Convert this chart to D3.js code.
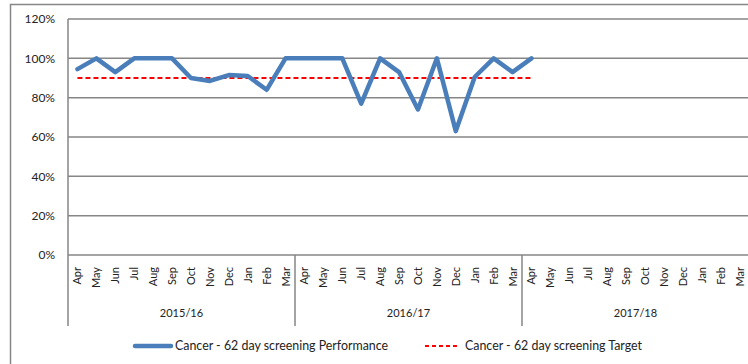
<!DOCTYPE html>
<html>
<head>
<meta charset="utf-8">
<script src="https://cdn.jsdelivr.net/npm/d3@7"></script>
<style>
  html, body { margin: 0; padding: 0; background: #fff; }
  svg { display: block; font-family: Lato, "Open Sans", "Liberation Sans", sans-serif; }
</style>
</head>
<body>
<svg id="chart" width="748" height="364"></svg>
<script>
// Financial-year months and year groups
const months = ["Apr","May","Jun","Jul","Aug","Sep","Oct","Nov","Dec","Jan","Feb","Mar"];
const years = ["2015/16", "2016/17", "2017/18"];

// Monthly performance (%), Apr 2015 onwards
const performance = [94.5, 100, 93, 100, 100, 100, 90, 88.5, 91.5, 91, 84, 100,
                     100, 100, 100, 77, 100, 93, 74, 100, 63, 90.5, 100, 93,
                     100];
// Target (%) over the same months
const target = Array(performance.length).fill(90);

const yTicks = [0, 20, 40, 60, 80, 100, 120];

const seriesNames = ["Cancer - 62 day screening Performance", "Cancer - 62 day screening Target"];

const categories = [];
years.forEach((yr, g) => months.forEach((m, i) => categories.push({ key: g * 12 + i, month: m, year: yr })));

const svg = d3.select("#chart");
const plotLeft = 68, plotRight = 749, plotTop = 19, plotBottom = 255;
const grey = "#868686";

// Outer frame
svg.append("rect")
  .attr("x", 10.5).attr("y", 4.5).attr("width", 800).attr("height", 400)
  .attr("fill", "none").attr("stroke", grey).attr("stroke-width", 1.5);

const x = d3.scaleBand().domain(categories.map(d => d.key)).range([plotLeft, plotRight]).padding(0);
const y = d3.scaleLinear().domain([0, 120]).range([plotBottom, plotTop]);
const cx = i => x(i) + x.bandwidth() / 2;

// Horizontal gridlines
svg.append("g").selectAll("line").data(yTicks).join("line")
  .attr("x1", plotLeft).attr("x2", plotRight + 5)
  .attr("y1", d => y(d)).attr("y2", d => y(d))
  .attr("stroke", grey).attr("stroke-width", 1.5);

// Y axis labels
svg.append("g").selectAll("text").data(yTicks).join("text")
  .attr("x", 55).attr("y", d => y(d)).attr("dy", "0.35em")
  .attr("text-anchor", "end").attr("font-size", 12).attr("fill", "#222")
  .text(d => d + "%");

// Left axis line
svg.append("line")
  .attr("x1", plotLeft).attr("x2", plotLeft).attr("y1", plotTop).attr("y2", 326)
  .attr("stroke", grey).attr("stroke-width", 1.5);

// Year group separators
svg.append("g").selectAll("line").data(years.slice(1)).join("line")
  .attr("x1", (d, i) => x((i + 1) * 12)).attr("x2", (d, i) => x((i + 1) * 12))
  .attr("y1", plotBottom).attr("y2", 326)
  .attr("stroke", grey).attr("stroke-width", 1.5);

// Month labels, rotated
svg.append("g").selectAll("text").data(categories).join("text")
  .attr("transform", d => `translate(${cx(d.key) + 4},${267}) rotate(-90)`)
  .attr("text-anchor", "end").attr("font-size", 11).attr("fill", "#222")
  .text(d => d.month);

// Year labels
svg.append("g").selectAll("text").data(years).join("text")
  .attr("x", (d, i) => (x(i * 12) + x(i * 12 + 11) + x.bandwidth()) / 2)
  .attr("y", 317).attr("text-anchor", "middle").attr("font-size", 11).attr("fill", "#222")
  .text(d => d);

const line = d3.line().x((d, i) => cx(i)).y(d => y(d));

// Target line
svg.append("path").datum(target)
  .attr("d", line).attr("fill", "none")
  .attr("stroke", "#ff0000").attr("stroke-width", 2).attr("stroke-dasharray", "5,3");

// Performance line
svg.append("path").datum(performance)
  .attr("d", line).attr("fill", "none")
  .attr("stroke", "#4a7ebb").attr("stroke-width", 4.5)
  .attr("stroke-linejoin", "round").attr("stroke-linecap", "round");

// Legend
const lg = svg.append("g").attr("font-size", 12.4).attr("fill", "#222");
lg.append("line").attr("x1", 135).attr("x2", 171).attr("y1", 346).attr("y2", 346)
  .attr("stroke", "#4a7ebb").attr("stroke-width", 4.5).attr("stroke-linecap", "round");
lg.append("text").attr("x", 175).attr("y", 346).attr("dy", "0.35em").text(seriesNames[0]);
lg.append("line").attr("x1", 425).attr("x2", 459).attr("y1", 346).attr("y2", 346)
  .attr("stroke", "#ff0000").attr("stroke-width", 2).attr("stroke-dasharray", "4,3");
lg.append("text").attr("x", 465).attr("y", 346).attr("dy", "0.35em").text(seriesNames[1]);
</script>
</body>
</html>
